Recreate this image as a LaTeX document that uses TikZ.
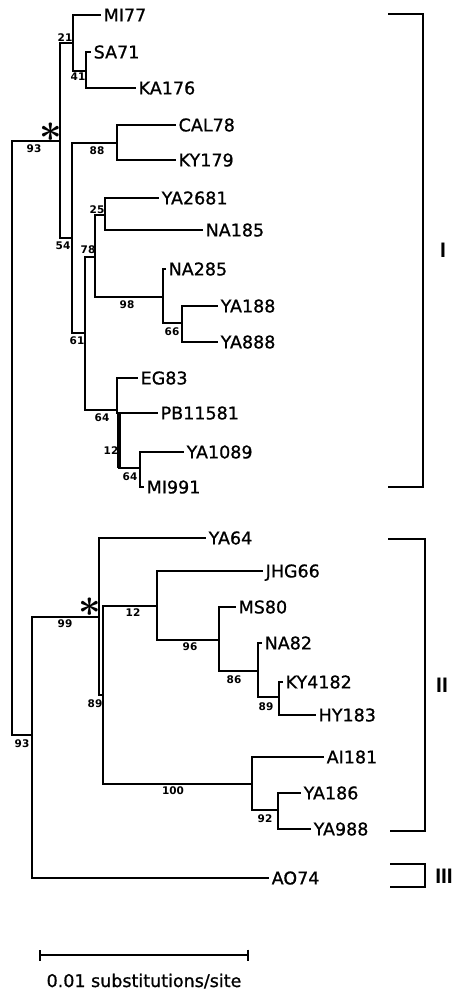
\documentclass[tikz,border=0pt]{standalone}
\usepackage{fontspec}
\setmainfont{DejaVu Sans}
\newfontfamily\leaffont[FakeBold=0.9]{DejaVu Sans}
\newfontfamily\romfont{Liberation Sans}
\usetikzlibrary{arrows.meta}
\tikzset{
  br/.style={line width=2.1pt, line cap=rect},
  bk/.style={line width=1.3pt},
  leaf/.style={anchor=west, inner xsep=3.5pt, inner ysep=0pt, text height=12.8pt, text depth=0pt, font=\leaffont\fontsize{17.5}{18}\selectfont},
  bs/.style={inner sep=0pt, font=\bfseries\fontsize{10.5}{11}\selectfont},
  rom/.style={inner sep=0pt, font=\romfont\bfseries\fontsize{21}{21}\selectfont},
  astk/.style={inner sep=0pt, font=\fontsize{20}{20}\selectfont},
  scl/.style={inner sep=0pt, font=\leaffont\fontsize{17.5}{18}\selectfont}
}
\begin{document}
\begin{tikzpicture}[x=1pt,y=-1pt]
\useasboundingbox[fill=white] (0,0) rectangle (451,990);
% internal nodes
\coordinate (R) at (12,141);
\coordinate (A) at (60,141);
\coordinate (n21) at (73,43);
\coordinate (n41) at (86,71);
\coordinate (n54) at (72,238);
\coordinate (n88) at (117,143);
\coordinate (n61) at (85,333);
\coordinate (n78) at (95,257);
\coordinate (n25) at (105,215);
\coordinate (n98) at (163,297);
\coordinate (n66) at (182,323);
\coordinate (n64a) at (117,410);
\coordinate (n12a) at (119,413);
\coordinate (n64b) at (140,468);
\coordinate (B) at (32,735);
\coordinate (n99) at (99,617);
\coordinate (n89a) at (103,695);
\coordinate (n12b) at (157,606);
\coordinate (n96) at (219,640);
\coordinate (n86) at (258,671);
\coordinate (n89b) at (279,697);
\coordinate (n100) at (252,784);
\coordinate (n92) at (278,810);
% leaves
\node[leaf] (MI77) at (100,15) {MI77};
\node[leaf] (SA71) at (90,52) {SA71};
\node[leaf] (KA176) at (135,88) {KA176};
\node[leaf] (CAL78) at (175,125) {CAL78};
\node[leaf] (KY179) at (175,160) {KY179};
\node[leaf] (YA2681) at (158,198) {YA2681};
\node[leaf] (NA185) at (202,230) {NA185};
\node[leaf] (NA285) at (165,269) {NA285};
\node[leaf] (YA188) at (217,306) {YA188};
\node[leaf] (YA888) at (217,342) {YA888};
\node[leaf] (EG83) at (137,378) {EG83};
\node[leaf] (PB11581) at (157,413) {PB11581};
\node[leaf] (YA1089) at (183,452) {YA1089};
\node[leaf] (MI991) at (143,487) {MI991};
\node[leaf] (YA64) at (205,538) {YA64};
\node[leaf] (JHG66) at (262,571) {JHG66};
\node[leaf] (MS80) at (235,607) {MS80};
\node[leaf] (NA82) at (261,643) {NA82};
\node[leaf] (KY4182) at (282,682) {KY4182};
\node[leaf] (HY183) at (315,715) {HY183};
\node[leaf] (AI181) at (323,757) {AI181};
\node[leaf] (YA186) at (300,793) {YA186};
\node[leaf] (YA988) at (310,829) {YA988};
\node[leaf] (AO74) at (268,878) {AO74};
% branches
\draw[br] (R) -- (A);
\draw[br] (R) |- (B);
\draw[br] (A) |- (n21);
\draw[br] (A) |- (n54);
\draw[br] (n21) |- (MI77.west);
\draw[br] (n21) |- (n41);
\draw[br] (n41) |- (SA71.west);
\draw[br] (n41) |- (KA176.west);
\draw[br] (n54) |- (n88);
\draw[br] (n54) |- (n61);
\draw[br] (n88) |- (CAL78.west);
\draw[br] (n88) |- (KY179.west);
\draw[br] (n61) |- (n78);
\draw[br] (n61) |- (n64a);
\draw[br] (n78) |- (n25);
\draw[br] (n78) |- (n98);
\draw[br] (n25) |- (YA2681.west);
\draw[br] (n25) |- (NA185.west);
\draw[br] (n98) |- (NA285.west);
\draw[br] (n98) |- (n66);
\draw[br] (n66) |- (YA188.west);
\draw[br] (n66) |- (YA888.west);
\draw[br] (n64a) |- (EG83.west);
\draw[br] (n64a) |- (n12a);
\draw[br] (n12a) |- (PB11581.west);
\draw[br] (n12a) |- (n64b);
\draw[line width=4pt] (n12a) -- (n12a |- n64b);
\draw[br] (n64b) |- (YA1089.west);
\draw[br] (n64b) |- (MI991.west);
\draw[br] (B) |- (n99);
\draw[br] (B) |- (AO74.west);
\draw[br] (n99) |- (YA64.west);
\draw[br] (n99) |- (n89a);
\draw[br] (n89a) |- (n12b);
\draw[br] (n89a) |- (n100);
\draw[br] (n12b) |- (JHG66.west);
\draw[br] (n12b) |- (n96);
\draw[br] (n96) |- (MS80.west);
\draw[br] (n96) |- (n86);
\draw[br] (n86) |- (NA82.west);
\draw[br] (n86) |- (n89b);
\draw[br] (n89b) |- (KY4182.west);
\draw[br] (n89b) |- (HY183.west);
\draw[br] (n100) |- (AI181.west);
\draw[br] (n100) |- (n92);
\draw[br] (n92) |- (YA186.west);
\draw[br] (n92) |- (YA988.west);
% bootstrap values
\node[bs] (b21) at (65,38) {21};
\node[bs] (b41) at (78,77) {41};
\node[bs] (b93a) at (34,149) {93};
\node[bs] (b88) at (97,151) {88};
\node[bs] (b25) at (97,210) {25};
\node[bs] (b54) at (63,246) {54};
\node[bs] (b78) at (88,250) {78};
\node[bs] (b98) at (127,305) {98};
\node[bs] (b66) at (172,332) {66};
\node[bs] (b61) at (77,341) {61};
\node[bs] (b64a) at (102,418) {64};
\node[bs] (b12a) at (111,451) {12};
\node[bs] (b64b) at (130,477) {64};
\node[bs] (b99) at (65,624) {99};
\node[bs] (b12b) at (133,613) {12};
\node[bs] (b96) at (190,647) {96};
\node[bs] (b89a) at (95,704) {89};
\node[bs] (b93b) at (22,744) {93};
\node[bs] (b100) at (173,791) {100};
\node[bs] (b86) at (234,680) {86};
\node[bs] (b89b) at (266,707) {89};
\node[bs] (b92) at (265,819) {92};
% asterisks
\node[astk] (s1) at (51,132) {\scalebox{1.9}{\boldmath$\ast$}};
\node[astk] (s2) at (90,607) {\scalebox{1.9}{\boldmath$\ast$}};
% clade brackets
\coordinate (I1) at (388,14); \coordinate (I2) at (423,487); \coordinate (I3) at (388,487);
\draw[bk] (I1) -| (I2) -- (I3);
\coordinate (II1) at (388,539); \coordinate (II2) at (425,831); \coordinate (II3) at (390,831);
\draw[bk] (II1) -| (II2) -- (II3);
\coordinate (III1) at (390,864); \coordinate (III2) at (425,887); \coordinate (III3) at (390,887);
\draw[bk] (III1) -| (III2) -- (III3);
\node[rom] (LI) at (443,250) {I};
\node[rom] (LII) at (442,685) {II};
\node[rom] (LIII) at (444,876) {III};
% scale bar
\coordinate (sb1) at (39,955);
\coordinate (sb2) at (249,955);
\draw[br, line cap=butt, {Bar[width=11pt,line width=2pt]}-{Bar[width=11pt,line width=2pt]}] (sb1) -- (sb2);
\node[scl, anchor=base] (sbt) at (144,987) {0.01 substitutions/site};
\end{tikzpicture}
\end{document}
